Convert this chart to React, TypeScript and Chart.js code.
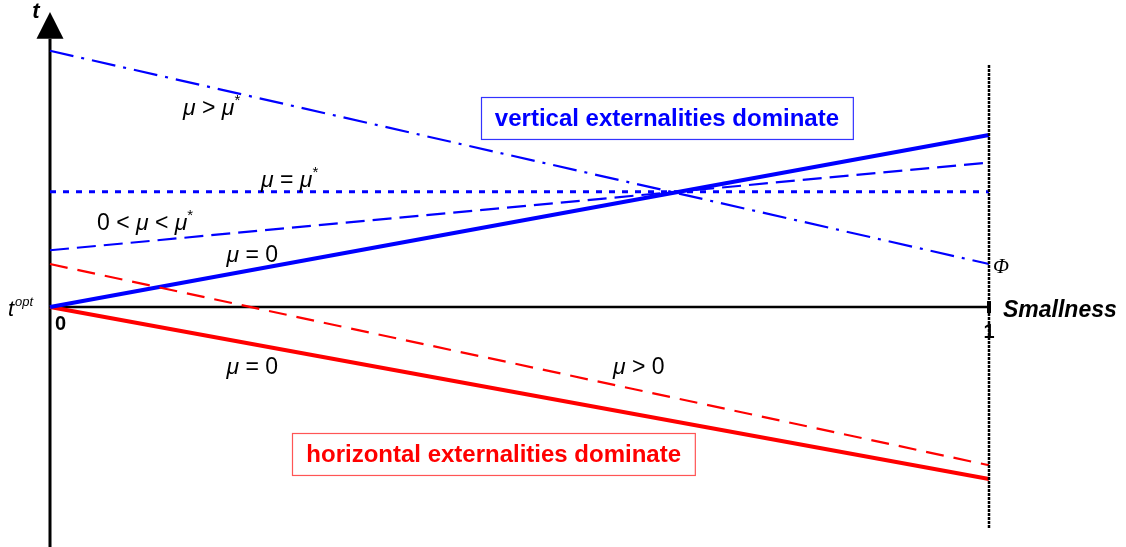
import React, { useEffect, useRef } from "react";
import { Chart, registerables } from "chart.js";

Chart.register(...registerables);

// Smallness (x) from 0 to 1
const smallness = [0, 1];
// t values (t^opt = 0), in units where the mu=0 vertical line reaches 1 at smallness 1
const blueMu0 = [0, 1.0];
const blueMuBetween = [0.33, 0.84];
const blueMuStar = [0.67, 0.67];
const blueMuAbove = [1.49, 0.25];
const redMuAbove0 = [0.25, -0.92];
const redMu0 = [0, -1.0];
const guideAt1 = [1.407, -1.285];

const xTickLabels = ["0", "1"];
const xAxisTitle = "Smallness";
const yAxisTitle = "t";

const BLUE = "#0000ff";
const RED = "#ff0000";
const SANS = "'Liberation Sans', Arial, sans-serif";

type Part = { text: string; italic?: boolean; sup?: boolean };

function drawRich(ctx: CanvasRenderingContext2D, x: number, y: number, parts: Part[], size: number) {
  let cx = x;
  for (const p of parts) {
    const fs = p.sup ? Math.round(size * 0.65) : size;
    ctx.font = `${p.italic ? "italic " : ""}${fs}px ${SANS}`;
    ctx.fillText(p.text, cx, p.sup ? y - size * 0.42 : y);
    cx += ctx.measureText(p.text).width;
  }
}

const mu: Part = { text: "\u03bc", italic: true };
const star: Part = { text: "*", sup: true };

const labels: { x: number; y: number; parts: Part[] }[] = [
  { x: 0.1416, y: 1.116, parts: [mu, { text: " > " }, mu, star] },
  { x: 0.2247, y: 0.698, parts: [mu, { text: " = " }, mu, star] },
  { x: 0.05, y: 0.448, parts: [{ text: "0 < " }, mu, { text: " < " }, mu, star] },
  { x: 0.188, y: 0.262, parts: [mu, { text: " = 0" }] },
  { x: 0.188, y: -0.39, parts: [mu, { text: " = 0" }] },
  { x: 0.5996, y: -0.39, parts: [mu, { text: " > 0" }] },
];

const boxes = [
  { text: "vertical externalities dominate", x0: 0.459, x1: 0.855, y0: 1.221, y1: 0.977, color: BLUE, border: "#3333ff" },
  { text: "horizontal externalities dominate", x0: 0.258, x1: 0.687, y0: -0.733, y1: -0.977, color: RED, border: "#ff5555" },
];

const pts = (ys: number[]) => ys.map((y, i) => ({ x: smallness[i], y }));

const decorPlugin = {
  id: "decor",
  beforeDatasetsDraw(chart: any) {
    const { ctx } = chart;
    const xs = chart.scales.x;
    const ys = chart.scales.y;
    const X = (v: number) => xs.getPixelForValue(v);
    const Y = (v: number) => ys.getPixelForValue(v);
    ctx.save();
    ctx.strokeStyle = "#000";
    ctx.fillStyle = "#000";
    // y axis
    ctx.lineWidth = 3;
    ctx.beginPath();
    ctx.moveTo(X(0), Y(-1.5));
    ctx.lineTo(X(0), Y(1.56));
    ctx.stroke();
    // arrow
    ctx.beginPath();
    ctx.moveTo(X(0), Y(1.715));
    ctx.lineTo(X(0) - 13.5, Y(1.56));
    ctx.lineTo(X(0) + 13.5, Y(1.56));
    ctx.closePath();
    ctx.fill();
    // x axis
    ctx.lineWidth = 2.5;
    ctx.beginPath();
    ctx.moveTo(X(0), Y(0));
    ctx.lineTo(X(1), Y(0));
    ctx.stroke();
    // small mark at x=1
    ctx.lineWidth = 4;
    ctx.beginPath();
    ctx.moveTo(X(1), Y(0) - 6);
    ctx.lineTo(X(1), Y(0) + 6);
    ctx.stroke();
    ctx.restore();
  },
  afterDatasetsDraw(chart: any) {
    const { ctx } = chart;
    const xs = chart.scales.x;
    const ys = chart.scales.y;
    const X = (v: number) => xs.getPixelForValue(v);
    const Y = (v: number) => ys.getPixelForValue(v);
    ctx.save();
    ctx.fillStyle = "#000";
    ctx.textBaseline = "alphabetic";
    // axis title t
    ctx.font = `bold italic 22px ${SANS}`;
    ctx.textAlign = "center";
    ctx.fillText(yAxisTitle, X(0) - 14, 18);
    // t^opt
    ctx.textAlign = "left";
    ctx.font = `italic 22px ${SANS}`;
    ctx.fillText("t", X(0) - 42, Y(0) + 9);
    const tw = ctx.measureText("t").width;
    ctx.font = `italic 13px ${SANS}`;
    ctx.fillText("opt", X(0) - 42 + tw + 1, Y(0) - 1);
    // x tick labels
    ctx.font = `bold 20px ${SANS}`;
    ctx.textAlign = "left";
    ctx.fillText(xTickLabels[0], X(0) + 5, Y(0) + 23);
    ctx.textAlign = "center";
    ctx.fillText(xTickLabels[1], X(1), Y(0) + 31);
    // x axis title
    ctx.textAlign = "left";
    ctx.font = `bold italic 23px ${SANS}`;
    ctx.fillText(xAxisTitle, X(1) + 14, Y(0) + 10);
    // Phi
    ctx.font = `italic 21px 'Liberation Serif', 'Times New Roman', serif`;
    ctx.fillText("\u03a6", X(1) + 4, Y(0.238) + 7);
    // mu labels
    for (const l of labels) {
      drawRich(ctx, X(l.x), Y(l.y), l.parts, 23);
    }
    // boxes
    for (const b of boxes) {
      const x0 = X(b.x0), x1 = X(b.x1), y0 = Y(b.y0), y1 = Y(b.y1);
      ctx.fillStyle = "#fff";
      ctx.fillRect(x0, y0, x1 - x0, y1 - y0);
      ctx.strokeStyle = b.border;
      ctx.lineWidth = 1.2;
      ctx.strokeRect(Math.round(x0) + 0.5, Math.round(y0) + 0.5, x1 - x0, y1 - y0);
      ctx.fillStyle = b.color;
      ctx.font = `bold 24px ${SANS}`;
      ctx.textAlign = "center";
      ctx.textBaseline = "middle";
      ctx.fillText(b.text, (x0 + x1) / 2, (y0 + y1) / 2 + 1);
      ctx.textBaseline = "alphabetic";
      ctx.textAlign = "left";
    }
    ctx.restore();
  },
};

export default function App() {
  const ref = useRef<HTMLCanvasElement>(null);
  useEffect(() => {
    document.body.style.margin = "0";
    const canvas = ref.current!;
    const line = (data: number[], color: string, width: number, dash: number[]) => ({
      data: pts(data),
      borderColor: color,
      borderWidth: width,
      borderDash: dash,
      showLine: true,
      pointRadius: 0,
      fill: false,
      clip: false as any,
      borderCapStyle: "butt" as const,
    });
    const chart = new Chart(canvas, {
      type: "scatter",
      data: {
        datasets: [
          { ...line(guideAt1, "#000", 2.5, [3, 1]), data: guideAt1.map((y) => ({ x: 1, y })) },
          line(blueMuStar, BLUE, 3, [6, 7]),
          line(blueMuAbove, BLUE, 2.2, [24, 8, 3, 8]),
          line(blueMuBetween, BLUE, 2.2, [19, 8]),
          line(redMuAbove0, RED, 2.2, [18, 10]),
          line(blueMu0, BLUE, 4, []),
          line(redMu0, RED, 4, []),
        ],
      },
      options: {
        responsive: false,
        animation: false,
        layout: { padding: { left: 50, right: 137, top: 0, bottom: 0 } },
        scales: {
          x: { type: "linear", min: 0, max: 1, display: false },
          y: { type: "linear", min: -1.395, max: 1.785, display: false },
        },
        plugins: { legend: { display: false }, tooltip: { enabled: false } },
      },
      plugins: [decorPlugin],
    });
    return () => chart.destroy();
  }, []);
  return (
    <div style={{ position: "absolute", left: 0, top: 0, width: 1126, height: 547 }}>
      <canvas ref={ref} width={1126} height={547} />
    </div>
  );
}
